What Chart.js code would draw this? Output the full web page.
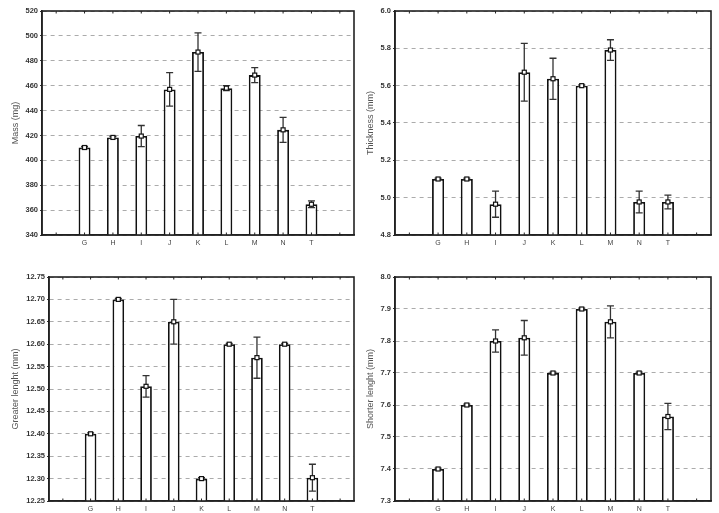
<!DOCTYPE html>
<html>
<head>
<meta charset="utf-8">
<script src="https://cdn.jsdelivr.net/npm/chart.js@4.4.1/dist/chart.umd.min.js"></script>
<style>
  html, body { margin: 0; padding: 0; background: #fff; }
  #wrap { position: relative; width: 719px; height: 513px; }
  canvas { position: absolute; }
</style>
</head>
<body>
<div id="wrap">
  <canvas id="c1" width="360" height="256" style="left:0;top:0"></canvas>
  <canvas id="c2" width="360" height="256" style="left:359px;top:0"></canvas>
  <canvas id="c3" width="360" height="257" style="left:0;top:256px"></canvas>
  <canvas id="c4" width="360" height="257" style="left:359px;top:256px"></canvas>
</div>
<script>
// categories (x axis)
const categories = ['G', 'H', 'I', 'J', 'K', 'L', 'M', 'N', 'T'];

// Mass (mg)
const massMean = [410.3, 418.4, 419.5, 457, 487, 458, 468.5, 424.5, 364.7];
const massErr  = [0.8, 0.8, 8.5, 13.5, 15.5, 2, 6, 10, 2.7];
const massTicks = [340, 520, 20, 0];       // min, max, step, decimals

// Thickness (mm)
const thickMean = [5.10, 5.10, 4.965, 5.672, 5.637, 5.60, 5.791, 4.977, 4.977];
const thickErr  = [0.005, 0.005, 0.07, 0.155, 0.11, 0.004, 0.055, 0.058, 0.037];
const thickTicks = [4.8, 6.0, 0.2, 1];

// Greater lenght (mm)
const greatMean = [12.40, 12.70, 12.506, 12.65, 12.30, 12.60, 12.57, 12.60, 12.302];
const greatErr  = [0.002, 0.002, 0.024, 0.05, 0.002, 0.002, 0.046, 0.002, 0.03];
const greatTicks = [12.25, 12.75, 0.05, 2];

// Shorter lenght (mm)
const shortMean = [7.40, 7.60, 7.80, 7.81, 7.70, 7.90, 7.86, 7.70, 7.564];
const shortErr  = [0.003, 0.003, 0.035, 0.054, 0.003, 0.003, 0.05, 0.003, 0.041];
const shortTicks = [7.3, 8.0, 0.1, 1];

Chart.defaults.font.family = '"Liberation Sans", Arial, sans-serif';
Chart.defaults.animation = false;

// frame, inner tick marks, error bars and mean markers
const decorations = {
  id: 'decorations',
  afterDatasetsDraw(chart, args, opts) {
    const ctx = chart.ctx;
    const xs = chart.scales.x, ys = chart.scales.y;
    ctx.save();
    // error bars
    ctx.strokeStyle = '#333';
    ctx.lineWidth = 1.3;
    opts.mean.forEach(function (m, i) {
      const x = xs.getPixelForValue(i + 1);
      const yt = ys.getPixelForValue(m + opts.err[i]);
      const yb = ys.getPixelForValue(m - opts.err[i]);
      ctx.beginPath();
      ctx.moveTo(x, yt); ctx.lineTo(x, yb);
      ctx.moveTo(x - 3.5, yt); ctx.lineTo(x + 3.5, yt);
      ctx.moveTo(x - 3.5, yb); ctx.lineTo(x + 3.5, yb);
      ctx.stroke();
    });
    // mean markers
    ctx.fillStyle = '#fff';
    ctx.strokeStyle = '#111';
    ctx.lineWidth = 1.2;
    opts.mean.forEach(function (m, i) {
      const x = xs.getPixelForValue(i + 1);
      const y = ys.getPixelForValue(m);
      ctx.fillRect(x - 2, y - 2, 4, 4);
      ctx.strokeRect(x - 2, y - 2, 4, 4);
    });
    ctx.restore();
  },
  afterDraw(chart) {
    const ctx = chart.ctx;
    const a = chart.chartArea;
    const xs = chart.scales.x;
    ctx.save();
    ctx.strokeStyle = '#222';
    ctx.lineWidth = 1;
    for (let i = 0; i < xs.ticks.length; i++) {
      const x = xs.getPixelForValue(i);
      ctx.beginPath();
      ctx.moveTo(x, a.top); ctx.lineTo(x, a.top + 2.5);
      ctx.moveTo(x, a.bottom); ctx.lineTo(x, a.bottom - 2.5);
      ctx.stroke();
    }
    ctx.lineWidth = 1.6;
    ctx.strokeRect(a.left, a.top, a.right - a.left, a.bottom - a.top);
    ctx.restore();
  }
};

function makePanel(id, title, mean, err, ticks, lay) {
  const labels = [''].concat(categories, ['']);
  const values = [null].concat(mean, [null]);
  new Chart(document.getElementById(id), {
    type: 'bar',
    data: {
      labels: labels,
      datasets: [{
        data: values,
        backgroundColor: '#fff',
        borderColor: '#111',
        borderWidth: 1.8,
        barPercentage: 0.42,
        categoryPercentage: 1
      }]
    },
    options: {
      responsive: false,
      layout: { padding: { left: 0, right: lay.right, top: lay.top, bottom: lay.bottom } },
      plugins: {
        legend: { display: false },
        tooltip: { enabled: false },
        decorations: { mean: mean, err: err }
      },
      scales: {
        x: {
          offset: true,
          grid: { display: false, drawTicks: false },
          border: { display: true, color: '#222', width: 1.6 },
          ticks: { color: '#444', font: { size: 7 }, padding: 4, autoSkip: false, maxRotation: 0 },
          afterFit: function (s) { s.height = lay.xh; }
        },
        y: {
          min: ticks[0],
          max: ticks[1],
          grid: { color: '#ababab', lineWidth: 1, tickColor: '#333', tickLength: 2, tickBorderDash: [] },
          border: { display: true, color: '#222', width: 1.6, dash: [4, 4] },
          ticks: {
            stepSize: ticks[2],
            color: '#333',
            font: { size: 7.5, weight: 'bold' },
            padding: 2,
            callback: function (v) { return Number(v).toFixed(ticks[3]); }
          },
          title: {
            display: true,
            text: title,
            color: '#555',
            font: { size: 9 },
            padding: { top: lay.tp, bottom: 0 }
          },
          afterFit: function (s) { s.width = lay.yw; }
        }
      }
    },
    plugins: [decorations]
  });
}

makePanel('c1', 'Mass (mg)', massMean, massErr, massTicks,
  { yw: 42, right: 6, top: 11, bottom: 5, xh: 16, tp: 10 });
makePanel('c2', 'Thickness (mm)', thickMean, thickErr, thickTicks,
  { yw: 36, right: 8, top: 11, bottom: 5, xh: 16, tp: 6 });
makePanel('c3', 'Greater lenght (mm)', greatMean, greatErr, greatTicks,
  { yw: 49, right: 6, top: 21, bottom: 0, xh: 12, tp: 10 });
makePanel('c4', 'Shorter lenght (mm)', shortMean, shortErr, shortTicks,
  { yw: 36, right: 8, top: 21, bottom: 0, xh: 12, tp: 6 });
</script>
</body>
</html>
